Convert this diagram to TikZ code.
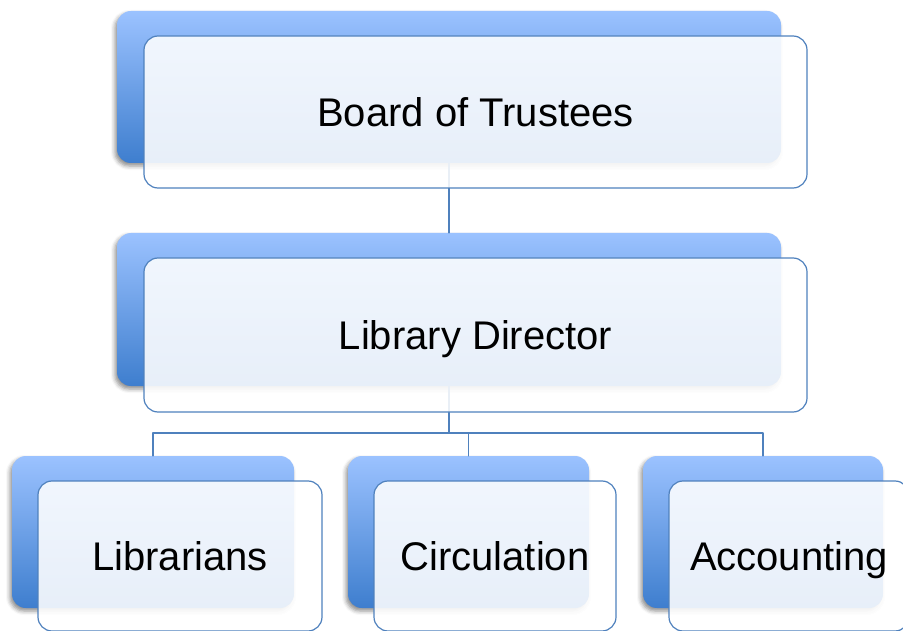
\documentclass[tikz,border=0pt]{standalone}
\usepackage{fontspec}
\setmainfont{Liberation Sans}
\usetikzlibrary{shadows.blur}
\definecolor{boxtop}{RGB}{155,194,255}
\definecolor{boxbottom}{RGB}{62,126,206}
\definecolor{edgeblue}{RGB}{79,129,189}
\begin{document}
\begin{tikzpicture}[x=1pt,y=-1pt,line join=round,line cap=round,
  back/.style={rectangle,rounded corners=14pt,inner sep=0pt,top color=boxtop,bottom color=boxbottom,draw=none,
    blur shadow={shadow xshift=-2pt,shadow yshift=-3pt,shadow blur radius=4pt,shadow opacity=45}},
  front/.style={rectangle,rounded corners=14pt,inner sep=0pt,draw=edgeblue,line width=1.2pt,fill=white,
    fill opacity=.88,text opacity=1,text height=29pt,text depth=0pt,font=\fontsize{40}{48}\selectfont},
  link/.style={draw=edgeblue,line width=1.5pt}]
\useasboundingbox (0,0) rectangle (903,631);
% back shapes
\node[back,minimum width=664pt,minimum height=152pt] (boardback) at (449,87) {};
\node[back,minimum width=664pt,minimum height=153pt] (dirback) at (449,309.5) {};
\node[back,minimum width=282pt,minimum height=152pt] (libback) at (153,532) {};
\node[back,minimum width=241pt,minimum height=152pt] (circback) at (468.5,532) {};
\node[back,minimum width=240pt,minimum height=152pt] (accback) at (763,532) {};
% connectors
\coordinate (split) at ([yshift=-47pt]dirback.south);
\draw[link] (boardback.south) -- (dirback.north);
\draw[link] (dirback.south) -- (split);
\draw[link] (split) -| (libback.north);
\draw[link] (split) -| (circback.north);
\draw[link] (split) -| (accback.north);
% front shapes
\node[front,minimum width=663pt,minimum height=152pt] (board) at (475.5,112) {Board of Trustees};
\node[front,minimum width=663pt,minimum height=154pt] (dir) at (475.5,335) {Library Director};
\node[front,minimum width=284pt,minimum height=150pt] (lib) at (180,556) {Librarians};
\node[front,minimum width=242pt,minimum height=150pt] (circ) at (495,556) {Circulation};
\node[front,minimum width=240pt,minimum height=150pt] (acc) at (789,556) {Accounting};
\end{tikzpicture}
\end{document}
